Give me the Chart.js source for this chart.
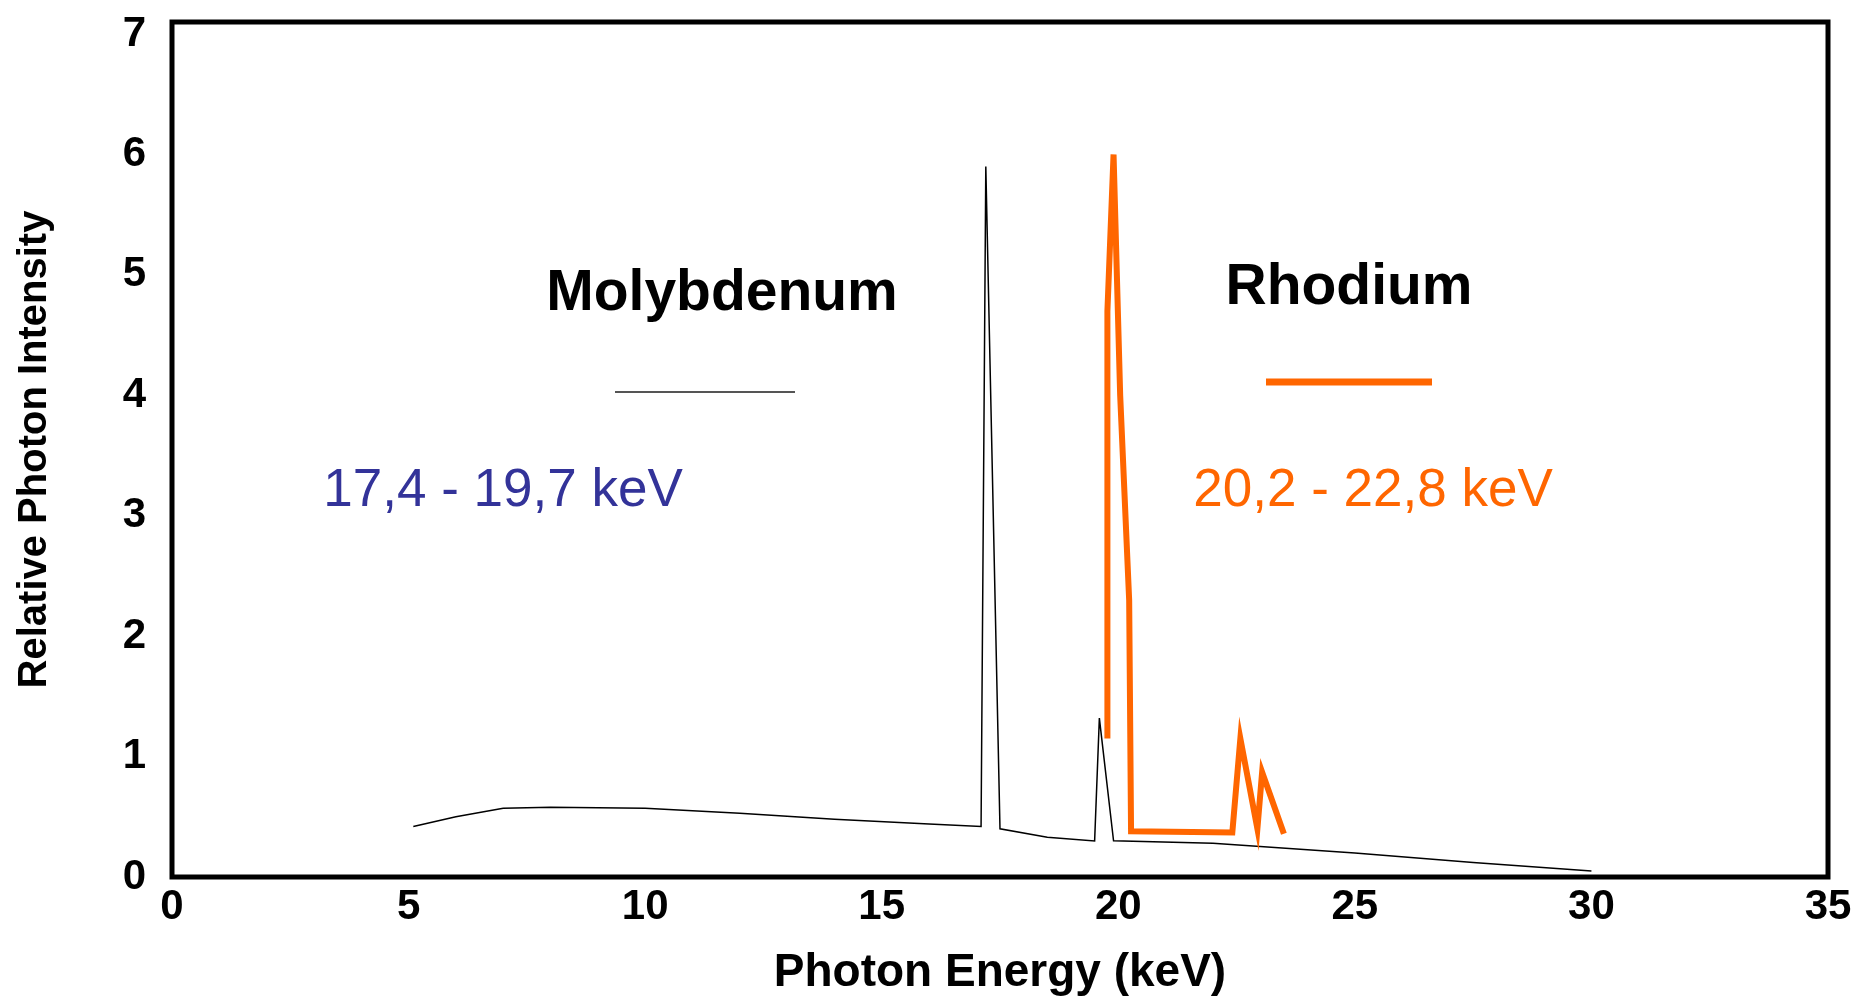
<!DOCTYPE html>
<html>
<head>
<meta charset="utf-8">
<script src="https://cdn.jsdelivr.net/npm/chart.js@4.4.1/dist/chart.umd.min.js"></script>
<style>
html, body { margin: 0; padding: 0; background: #fff; }
#wrap { width: 1856px; height: 996px; }
</style>
</head>
<body>
<div id="wrap"><canvas id="spectrum" width="1856" height="996"></canvas></div>
<script>
// Molybdenum anode spectrum (keV / relative intensity)
const moEnergy    = [5.1, 6, 7, 8, 10, 12, 14, 16, 17.1, 17.2, 17.5, 18.5, 19.5, 19.6, 19.9, 22, 25, 27.5, 30];
const moIntensity = [0.42, 0.5, 0.57, 0.58, 0.57, 0.53, 0.48, 0.44, 0.42, 5.9, 0.4, 0.33, 0.3, 1.32, 0.3, 0.28, 0.2, 0.12, 0.05];

// Rhodium anode spectrum
const rhEnergy    = [19.77, 19.77, 19.9, 20.04, 20.23, 20.27, 22.41, 22.58, 22.94, 23.04, 23.5];
const rhIntensity = [1.15, 4.7, 6.0, 4.0, 2.3, 0.38, 0.37, 1.15, 0.4, 0.87, 0.36];

// Axis ticks
const xTicks = [0, 5, 10, 15, 20, 25, 30, 35];
const yTicks = [0, 1, 2, 3, 4, 5, 6, 7];

const FONT = '"Liberation Sans", Arial, sans-serif';

function toPoints(xs, ys) {
    return xs.map((x, i) => ({ x: x, y: ys[i] }));
}

// Frame around the plot area plus the in-plot labels
const framePlugin = {
    id: 'frame',
    afterDraw(chart) {
        const { ctx, chartArea: a } = chart;
        ctx.save();
        ctx.strokeStyle = '#000';
        ctx.lineWidth = 5;
        ctx.strokeRect(a.left, a.top, a.right - a.left, a.bottom - a.top);

        ctx.textAlign = 'center';
        ctx.textBaseline = 'middle';
        ctx.fillStyle = '#000';
        ctx.font = 'bold 57px ' + FONT;
        ctx.fillText('Molybdenum', 722, 294);
        ctx.fillText('Rhodium', 1349, 288);

        // legend samples
        ctx.strokeStyle = '#555';
        ctx.lineWidth = 2;
        ctx.beginPath();
        ctx.moveTo(615, 392);
        ctx.lineTo(795, 392);
        ctx.stroke();
        ctx.strokeStyle = '#FF6600';
        ctx.lineWidth = 7;
        ctx.beginPath();
        ctx.moveTo(1266, 382);
        ctx.lineTo(1432, 382);
        ctx.stroke();

        ctx.font = '53px ' + FONT;
        ctx.fillStyle = '#333399';
        ctx.fillText('17,4 - 19,7 keV', 503, 491);
        ctx.fillStyle = '#FF6600';
        ctx.fillText('20,2 - 22,8 keV', 1373, 491);
        ctx.restore();
    }
};

const ctx = document.getElementById('spectrum').getContext('2d');
new Chart(ctx, {
    type: 'line',
    data: {
        datasets: [
            {
                label: 'Rhodium',
                data: toPoints(rhEnergy, rhIntensity),
                borderColor: '#FF6600',
                borderWidth: 6,
                pointRadius: 0,
                tension: 0,
                order: 0
            },
            {
                label: 'Molybdenum',
                data: toPoints(moEnergy, moIntensity),
                borderColor: '#000',
                borderWidth: 1.5,
                pointRadius: 0,
                tension: 0,
                order: 1
            }
        ]
    },
    options: {
        responsive: false,
        animation: false,
        devicePixelRatio: 1,
        layout: { padding: { left: 0, top: 22, right: 28, bottom: 0 } },
        plugins: {
            legend: { display: false },
            tooltip: { enabled: false }
        },
        scales: {
            x: {
                type: 'linear',
                min: 0,
                max: 35,
                grid: { display: false },
                border: { display: false },
                afterBuildTicks: scale => { scale.ticks = xTicks.map(v => ({ value: v })); },
                afterFit: scale => {
                    scale.height = 119;
                    scale.paddingLeft = 0;
                    scale.paddingRight = 0;
                },
                ticks: {
                    color: '#000',
                    padding: -3,
                    maxRotation: 0,
                    font: { family: FONT, size: 42, weight: 'bold' }
                },
                title: {
                    display: true,
                    text: 'Photon Energy (keV)',
                    color: '#000',
                    padding: { top: 0, bottom: 0 },
                    font: { family: FONT, size: 46, weight: 'bold', lineHeight: 1 }
                }
            },
            y: {
                type: 'linear',
                min: 0,
                max: 7.1,
                grid: { display: false },
                border: { display: false },
                afterBuildTicks: scale => { scale.ticks = yTicks.map(v => ({ value: v })); },
                afterFit: scale => {
                    scale.width = 172;
                    scale.paddingTop = 0;
                    scale.paddingBottom = 0;
                },
                ticks: {
                    color: '#000',
                    padding: 18,
                    font: { family: FONT, size: 42, weight: 'bold' }
                },
                title: {
                    display: true,
                    text: 'Relative Photon Intensity',
                    color: '#000',
                    padding: { top: 11, bottom: 0 },
                    font: { family: FONT, size: 40, weight: 'bold', lineHeight: 1.2 }
                }
            }
        }
    },
    plugins: [framePlugin]
});
</script>
</body>
</html>
